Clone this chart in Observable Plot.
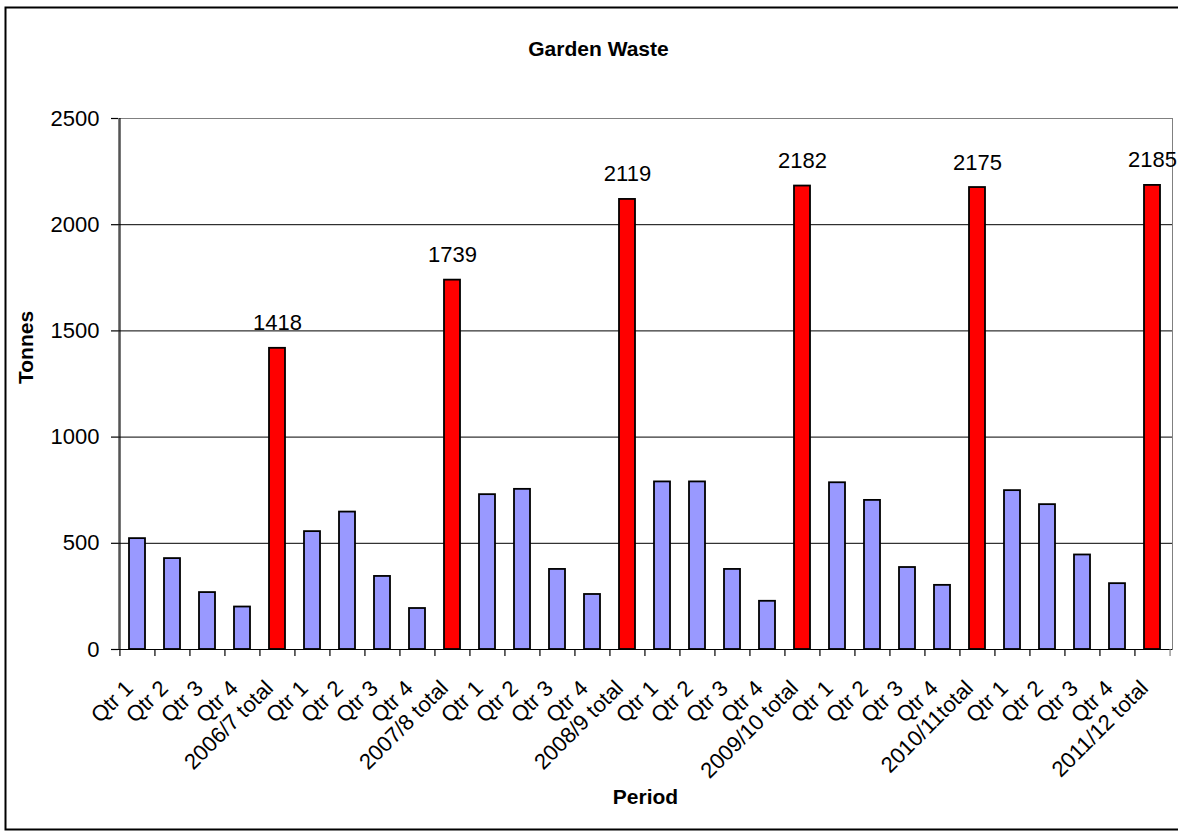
<!DOCTYPE html>
<html>
<head>
<meta charset="utf-8">
<script src="https://cdn.jsdelivr.net/npm/d3@7"></script>
<script src="https://cdn.jsdelivr.net/npm/@observablehq/plot@0.6"></script>
<style>
  html, body { margin: 0; padding: 0; background: #fff; overflow: hidden; }
  svg { display: block; }
</style>
</head>
<body>
<div id="chart"></div>
<script>
const title = "Garden Waste";
const yLabel = "Tonnes";
const xLabel = "Period";

const periods = [
  "Qtr 1", "Qtr 2", "Qtr 3", "Qtr 4", "2006/7 total",
  "Qtr 1", "Qtr 2", "Qtr 3", "Qtr 4", "2007/8 total",
  "Qtr 1", "Qtr 2", "Qtr 3", "Qtr 4", "2008/9 total",
  "Qtr 1", "Qtr 2", "Qtr 3", "Qtr 4", "2009/10 total",
  "Qtr 1", "Qtr 2", "Qtr 3", "Qtr 4", "2010/11total",
  "Qtr 1", "Qtr 2", "Qtr 3", "Qtr 4", "2011/12 total"
];
const tonnes = [
  522, 428, 268, 200, 1418,
  555, 647, 344, 193, 1739,
  729, 754, 377, 259, 2119,
  789, 789, 377, 227, 2182,
  785, 702, 386, 302, 2175,
  748, 682, 445, 310, 2185
];
const yTicks = [0, 500, 1000, 1500, 2000, 2500];

const width = 1178, height = 836;
const marginLeft = 118, marginRight = 6, marginTop = 118, marginBottom = 187;
const step = (width - marginLeft - marginRight) / periods.length;

const idx = periods.map((_, i) => i);
const isTotal = i => periods[i].includes("total");
const totals = idx.filter(isTotal);

const chart = Plot.plot({
  width, height, marginLeft, marginRight, marginTop, marginBottom,
  style: { fontFamily: "'Liberation Sans', Arial, sans-serif", fontSize: "22px", background: "#fff", color: "#000", overflow: "visible" },
  x: { domain: idx, paddingInner: 0.54, paddingOuter: 0.27, axis: null },
  y: { domain: [0, 2500], axis: null },
  marks: [
    // outer chart border
    Plot.frame({ stroke: "#000", strokeWidth: 2, insetLeft: -113, insetTop: -111, insetBottom: -180, insetRight: -10 }),
    // plot area border
    Plot.frame({ stroke: "#808080", strokeWidth: 1 }),
    Plot.ruleY(yTicks.filter(v => v > 0 && v < 2500), { stroke: "#000", strokeWidth: 1 }),
    Plot.ruleY([2500], { stroke: "#808080", strokeWidth: 1 }),
    Plot.barY(idx, {
      x: d => d, y: i => tonnes[i],
      fill: i => isTotal(i) ? "#FF0000" : "#9999FF",
      stroke: "#000", strokeWidth: 1.8
    }),
    // axis lines
    Plot.ruleY([0], { stroke: "#000", strokeWidth: 1.2 }),
    Plot.ruleX([0], { x: d => d, dx: -step / 2, stroke: "#000", strokeWidth: 1.2 }),
    // x ticks at category boundaries
    Plot.ruleX(idx, { x: d => d, y1: 0, y2: 0, dx: -step / 2, insetBottom: -7, stroke: "#000", strokeWidth: 1.2 }),
    Plot.ruleX([idx.length - 1], { x: d => d, y1: 0, y2: 0, dx: step / 2, insetBottom: -7, stroke: "#808080", strokeWidth: 1.2 }),
    // y axis
    Plot.axisY({ ticks: yTicks, tickFormat: d => String(d), tickSize: 7, tickPadding: 12, stroke: "#000", strokeWidth: 1.2, fill: "#000", label: null }),
    // x tick labels
    Plot.text(idx, {
      x: d => d, text: i => periods[i], frameAnchor: "bottom",
      rotate: -45, textAnchor: "end", lineAnchor: "bottom",
      dx: -3, dy: 40, fill: "#000"
    }),
    // data labels on totals
    Plot.text(totals, {
      x: d => d, y: i => tonnes[i], text: i => String(tonnes[i]),
      lineAnchor: "bottom", dy: -18, fill: "#000"
    }),
    // title and axis titles
    Plot.text([title], { frameAnchor: "top", dx: -47, dy: -77, fontWeight: "bold", fontSize: 21, fill: "#000" }),
    Plot.text([yLabel], { frameAnchor: "left", rotate: -90, dx: -92, fontWeight: "bold", fontSize: 21, fill: "#000" }),
    Plot.text([xLabel], { frameAnchor: "bottom", dy: 154, fontWeight: "bold", fontSize: 21, fill: "#000" })
  ]
});
document.getElementById("chart").appendChild(chart);
</script>
</body>
</html>
